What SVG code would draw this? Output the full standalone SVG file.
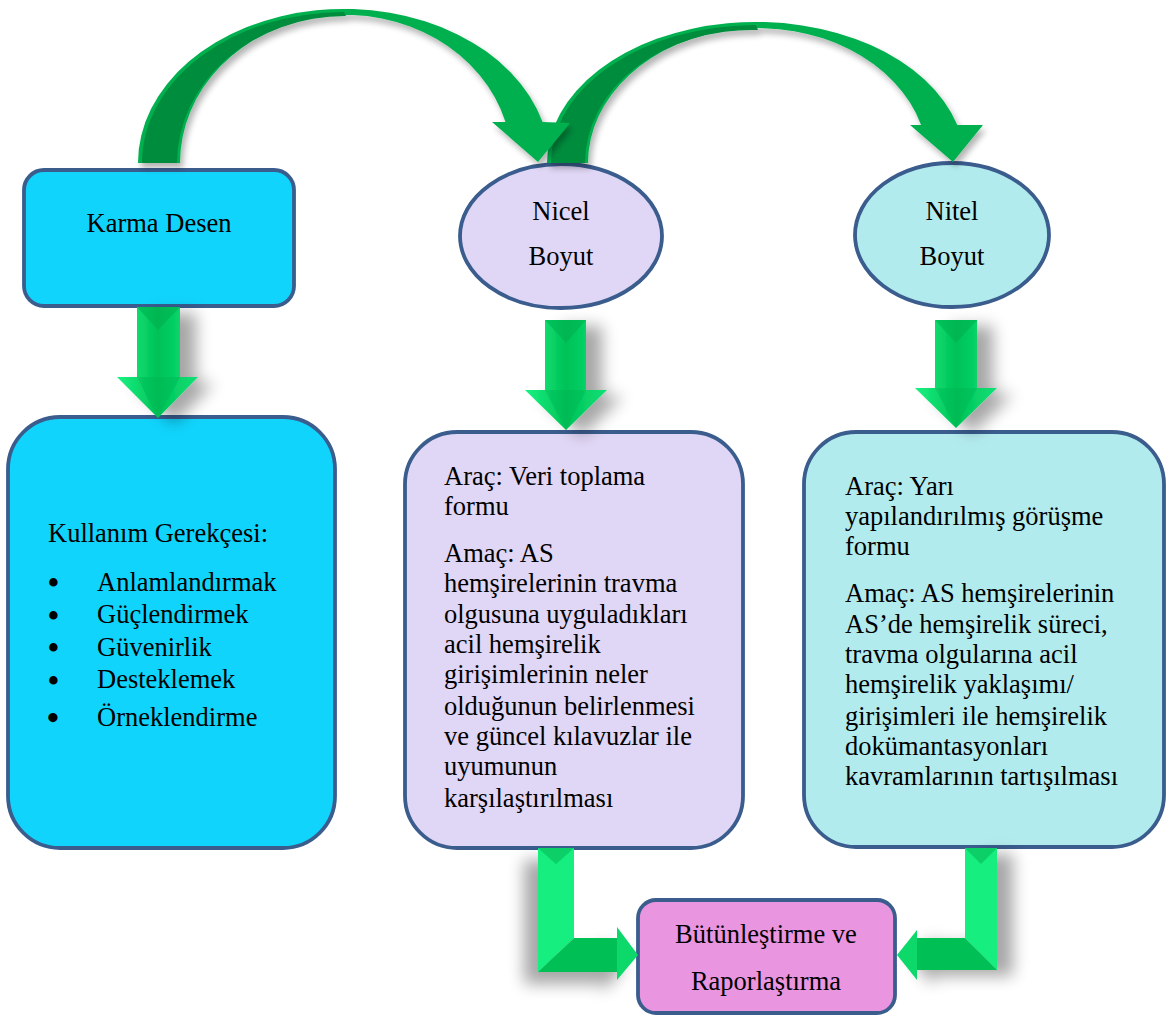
<svg xmlns="http://www.w3.org/2000/svg" width="1166" height="1015" viewBox="0 0 1166 1015">
<defs>
<style>
.box{stroke:#3a5d8e;stroke-width:3.8}
.t{font-family:"Liberation Serif","Times New Roman",serif;font-size:26.5px;fill:#000}
.c{text-anchor:middle}
.b{font-family:"Liberation Serif","Times New Roman",serif;font-size:31px;font-weight:bold;fill:#000}
.cur{fill:#00b050}
.curd{fill:#008c3c}
.lt{fill:#12ee7f}
.dk{fill:#00c055}
.md{fill:#0bd86b}
</style>
<linearGradient id="gV" x1="0" y1="0" x2="1" y2="0">
<stop offset="0" stop-color="#1af283"/>
<stop offset="0.5" stop-color="#00c257"/>
<stop offset="1" stop-color="#0fe176"/>
</linearGradient>
<filter id="shR" x="-50%" y="-50%" width="200%" height="200%">
<feGaussianBlur in="SourceAlpha" stdDeviation="8"/>
<feOffset dx="16" dy="6" result="b"/>
<feComponentTransfer><feFuncA type="linear" slope="0.35"/></feComponentTransfer>
<feMerge><feMergeNode/><feMergeNode in="SourceGraphic"/></feMerge>
</filter>
<filter id="shL" x="-50%" y="-50%" width="200%" height="200%">
<feGaussianBlur in="SourceAlpha" stdDeviation="8"/>
<feOffset dx="-14" dy="12" result="b"/>
<feComponentTransfer><feFuncA type="linear" slope="0.35"/></feComponentTransfer>
<feMerge><feMergeNode/><feMergeNode in="SourceGraphic"/></feMerge>
</filter>
<filter id="shC" x="-20%" y="-20%" width="140%" height="140%">
<feGaussianBlur in="SourceAlpha" stdDeviation="3"/>
<feOffset dx="3" dy="5" result="b"/>
<feComponentTransfer><feFuncA type="linear" slope="0.3"/></feComponentTransfer>
<feMerge><feMergeNode/><feMergeNode in="SourceGraphic"/></feMerge>
</filter>
</defs>
<rect width="1166" height="1015" fill="#fff"/>

<g id="karma">
<rect class="box" x="24" y="170" width="270" height="136" rx="20" fill="#10d4fc"/>
<text class="t c" x="159" y="232">Karma Desen</text>
</g>

<g id="nicel">
<ellipse class="box" cx="561" cy="236" rx="101" ry="72" fill="#e0d6f5"/>
<text class="t c" x="561" y="220">Nicel</text>
<text class="t c" x="561" y="265">Boyut</text>
</g>

<g id="nitel">
<ellipse class="box" cx="952" cy="235" rx="97" ry="72" fill="#b2ebee"/>
<text class="t c" x="952" y="220">Nitel</text>
<text class="t c" x="952" y="265">Boyut</text>
</g>

<g id="gerekce">
<rect class="box" x="8" y="417" width="327" height="431" rx="52" fill="#10d4fc"/>
<text class="t" x="48" y="542">Kullanım Gerekçesi:</text>
<text class="b" x="48" y="593">•</text><text class="t" x="97" y="591">Anlamlandırmak</text>
<text class="b" x="48" y="626">•</text><text class="t" x="97" y="623">Güçlendirmek</text>
<text class="b" x="48" y="658">•</text><text class="t" x="97" y="656">Güvenirlik</text>
<text class="b" x="48" y="691">•</text><text class="t" x="97" y="688">Desteklemek</text>
<text class="b" x="47" y="729" style="font-size:34px">•</text><text class="t" x="97" y="726">Örneklendirme</text>
</g>

<g id="nicel-detay">
<rect class="box" x="405" y="432" width="338" height="416" rx="52" fill="#e0d6f5"/>
<text class="t" x="444" y="485">Araç: Veri toplama</text>
<text class="t" x="444" y="515">formu</text>
<text class="t" x="444" y="562">Amaç: AS</text>
<text class="t" x="444" y="592">hemşirelerinin travma</text>
<text class="t" x="444" y="623">olgusuna uyguladıkları</text>
<text class="t" x="444" y="653">acil hemşirelik</text>
<text class="t" x="444" y="683">girişimlerinin neler</text>
<text class="t" x="444" y="715">olduğunun belirlenmesi</text>
<text class="t" x="444" y="745">ve güncel kılavuzlar ile</text>
<text class="t" x="444" y="775">uyumunun</text>
<text class="t" x="444" y="807">karşılaştırılması</text>
</g>

<g id="nitel-detay">
<rect class="box" x="804" y="432" width="360" height="415" rx="52" fill="#b2ebee"/>
<text class="t" x="845" y="495">Araç: Yarı</text>
<text class="t" x="845" y="525">yapılandırılmış görüşme</text>
<text class="t" x="845" y="555">formu</text>
<text class="t" x="845" y="602">Amaç: AS hemşirelerinin</text>
<text class="t" x="845" y="633">AS’de hemşirelik süreci,</text>
<text class="t" x="845" y="663">travma olgularına acil</text>
<text class="t" x="845" y="693">hemşirelik yaklaşımı/</text>
<text class="t" x="845" y="725">girişimleri ile hemşirelik</text>
<text class="t" x="845" y="755">dokümantasyonları</text>
<text class="t" x="845" y="785">kavramlarının tartışılması</text>
</g>

<g id="butunlestirme">
<rect class="box" x="638" y="900" width="257" height="113" rx="18" fill="#ea95e0"/>
<text class="t c" x="766" y="943">Bütünleştirme ve</text>
<text class="t c" x="766" y="990">Raporlaştırma</text>
</g>

<g id="connectors">
<g filter="url(#shC)">
<path class="cur" d="M 547 163 A 209 141 0 0 1 957.3 125 L 983 125 L 953 162 L 910 125 L 921.1 125 A 170 135 0 0 0 588 163 Z"/>
<path class="curd" d="M 551 163 A 205 138 0 0 1 756 25 L 758 30 A 167 133 0 0 0 585 163 Z"/>
</g>
<g filter="url(#shC)">
<path class="cur" d="M 138 163 A 206 154 0 0 1 542.6 122 L 570 123 L 538 162 L 492 122 L 505.5 122 A 166 148 0 0 0 180 163 Z"/>
<path class="curd" d="M 142 163 A 202 151 0 0 1 344 12 L 346 16 A 169 147 0 0 0 177 163 Z"/>
</g>

<g filter="url(#shR)">
<polygon fill="url(#gV)" points="137,307 180,307 180,377 198,377 158,418 117,377 137,377"/>
<polygon fill="#00a84a" opacity="0.45" points="137,307 180,307 158,330"/>
<polygon fill="#00b04f" opacity="0.35" points="137,377 180,377 158,418"/>
</g>
<g filter="url(#shR)">
<polygon fill="url(#gV)" points="545,320 586,320 586,390 607,390 566,430 525,390 545,390"/>
<polygon fill="#00a84a" opacity="0.45" points="545,320 586,320 566,343"/>
<polygon fill="#00b04f" opacity="0.35" points="545,390 586,390 566,430"/>
</g>
<g filter="url(#shR)">
<polygon fill="url(#gV)" points="935,320 977,320 977,388 997,388 956,428 915,388 935,388"/>
<polygon fill="#00a84a" opacity="0.45" points="935,320 977,320 956,343"/>
<polygon fill="#00b04f" opacity="0.35" points="935,388 977,388 956,428"/>
</g>

<g filter="url(#shL)">
<polygon class="lt" points="538,848 574,848 574,938 538,972"/>
<polygon class="dk" points="538,972 574,938 617,938 617,972"/>
<polygon class="md" points="617,927 638,955 617,980"/>
<polygon fill="#00b050" opacity="0.5" points="538,848 574,848 556,864"/>
</g>
<g filter="url(#shR)">
<polygon class="lt" points="965,848 997,848 997,970 965,938"/>
<polygon class="dk" points="917,938 965,938 997,970 917,970"/>
<polygon class="md" points="917,930 917,980 897,955"/>
<polygon fill="#00b050" opacity="0.5" points="965,848 997,848 981,864"/>
</g>
</g>
</svg>
